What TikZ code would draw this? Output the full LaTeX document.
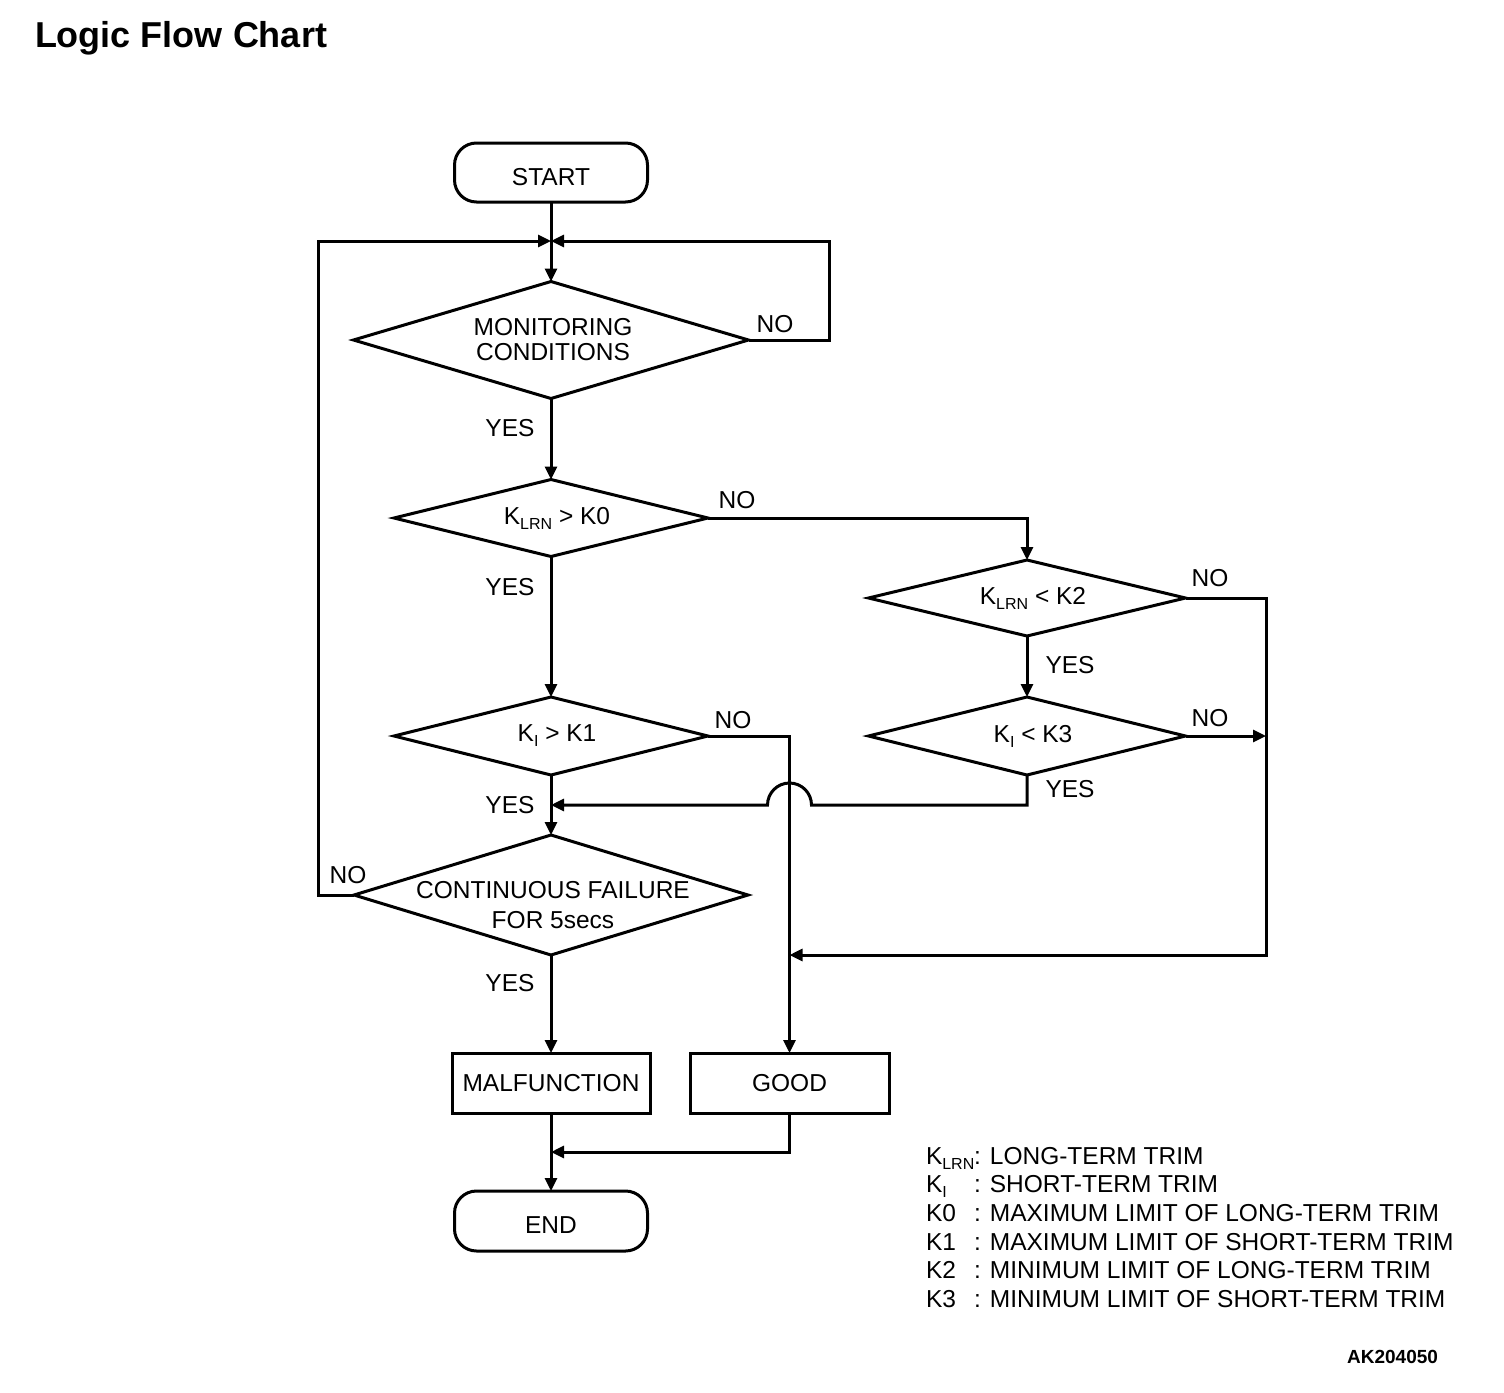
\documentclass[tikz,border=0pt]{standalone}
\usepackage{fontspec}
\setmainfont{Liberation Sans}
\usetikzlibrary{shapes.geometric,arrows.meta}
\newcommand\sbs[1]{\raisebox{-5pt}{\fontsize{16}{16}\selectfont #1}}
\newcommand\zw[1]{\makebox[0pt]{\hspace{12pt}#1}}
\begin{document}
\begin{tikzpicture}[x=1pt,y=-1pt,
  every node/.style={font=\fontsize{24.5}{25}\selectfont, inner sep=0pt, outer sep=0pt},
  arr/.style={line width=3pt, -{Triangle[length=13pt,width=12pt]}},
  dec/.style={draw, line width=3pt, shape=diamond, aspect=4},
  term/.style={draw, line width=3pt, rounded corners=22pt, minimum width=193pt, minimum height=59pt, text height=25.5pt, text depth=0pt},
  proc/.style={draw, line width=3pt, rectangle, minimum width=198pt, minimum height=60pt},
  lbl/.style={anchor=center},
  leg/.style={anchor=base west}]
\fill[white] (0,0) rectangle (1504,1392);
\useasboundingbox (0,0) rectangle (1504,1392);

\node[anchor=base west, font=\fontsize{36}{40}\selectfont\bfseries] (title) at (35,47) {Logic Flow Chart};

\node[term] (start) at (551,172.5) {START};
\node[dec, minimum width=395pt, minimum height=117pt] (mon) at (551,340) {};
\node[align=center] (montext) at (553,340) {MONITORING\\CONDITIONS};
\node[dec, minimum width=314pt, minimum height=77pt] (k0) at (551,518) {\zw{K\sbs{LRN} > K0}};
\node[dec, minimum width=314pt, minimum height=78pt] (k1) at (551,736) {\zw{K\sbs{I} > K1}};
\node[dec, minimum width=394pt, minimum height=120pt] (cont) at (551,895) {};
\node[align=center] (conttext) at (553,905) {CONTINUOUS FAILURE\\[5pt]FOR 5secs};
\node[dec, minimum width=317pt, minimum height=76pt] (k2) at (1027,598) {\zw{K\sbs{LRN} < K2}};
\node[dec, minimum width=317pt, minimum height=78pt] (k3) at (1027,736) {\zw{K\sbs{I} < K3}};
\node[proc] (malf) at (551,1083) {MALFUNCTION};
\node[proc, minimum width=199pt] (good) at (789.5,1083) {GOOD};
\node[term, minimum height=60pt] (end) at (551,1221) {END};

% labels
\node[lbl] (no1) at (775,324) {NO};
\node[lbl] (yes1) at (510,428) {YES};
\node[lbl] (no2) at (737,500) {NO};
\node[lbl] (yes2) at (510,587) {YES};
\node[lbl] (no3) at (733,720) {NO};
\node[lbl] (yes3) at (510,805) {YES};
\node[lbl] (no4) at (348,875) {NO};
\node[lbl] (yes4) at (510,983) {YES};
\node[lbl] (no5) at (1210,578) {NO};
\node[lbl] (yes5) at (1070,665) {YES};
\node[lbl] (no6) at (1210,718) {NO};
\node[lbl] (yes6) at (1070,789) {YES};

% coordinates
\coordinate (m1) at (551,241);
\coordinate (m2) at (551,805);
\coordinate (m3) at (789.5,955);
\coordinate (m4) at (1266,736);
\coordinate (m5) at (551,1152);

% connectors
\draw[arr] (start.south) -- (mon.north);
\draw[arr] (mon.east) -- (829,340) |- (m1);
\draw[arr] (cont.west) -- (318,895) |- (m1);
\draw[arr] (mon.south) -- (k0.north);
\draw[arr] (k0.east) -| (k2.north);
\draw[arr] (k0.south) -- (k1.north);
\draw[arr] (k1.east) -| (good.north);
\draw[arr] (k1.south) -- (cont.north);
\draw[arr] (k3.south) |- (811.5,805) arc[start angle=0,end angle=-180,radius=22] -- (m2);
\draw[arr] (k2.east) -- (1266,598) |- (m3);
\draw[arr] (k2.south) -- (k3.north);
\draw[arr] (k3.east) -- (m4);
\draw[arr] (cont.south) -- (malf.north);
\draw[arr] (malf.south) -- (end.north);
\draw[arr] (good.south) |- (m5);

% legend
\node[leg] (l1) at (926,1164) {\makebox[48pt][l]{K\sbs{LRN}}: LONG-TERM TRIM};
\node[leg] (l2) at (926,1192) {\makebox[48pt][l]{K\sbs{I}}: SHORT-TERM TRIM};
\node[leg] (l3) at (926,1221) {\makebox[48pt][l]{K0}: MAXIMUM LIMIT OF LONG-TERM TRIM};
\node[leg] (l4) at (926,1250) {\makebox[48pt][l]{K1}: MAXIMUM LIMIT OF SHORT-TERM TRIM};
\node[leg] (l5) at (926,1278) {\makebox[48pt][l]{K2}: MINIMUM LIMIT OF LONG-TERM TRIM};
\node[leg] (l6) at (926,1307) {\makebox[48pt][l]{K3}: MINIMUM LIMIT OF SHORT-TERM TRIM};

\node[anchor=base east, font=\fontsize{19}{20}\selectfont\bfseries] (code) at (1438,1363) {AK204050};
\end{tikzpicture}
\end{document}
